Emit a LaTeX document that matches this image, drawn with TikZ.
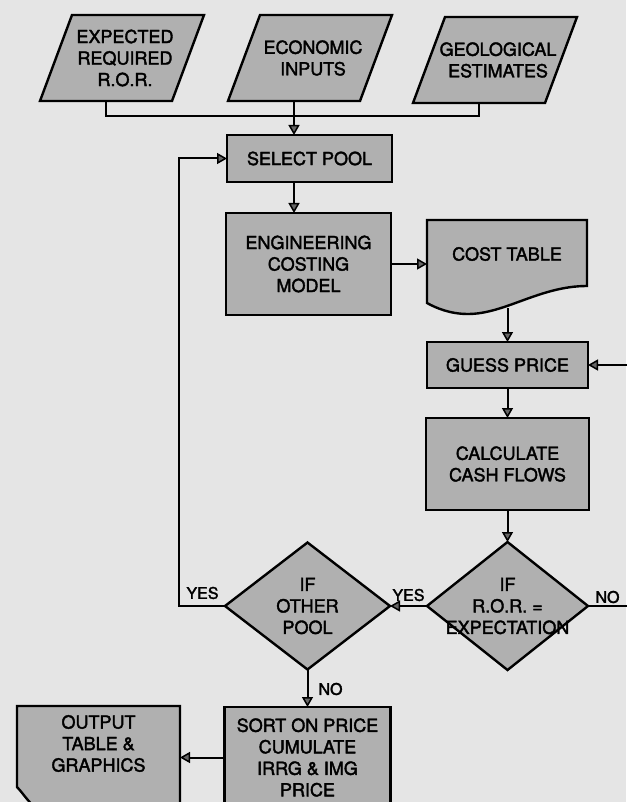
\documentclass[tikz,border=0pt]{standalone}
\usepackage{fontspec}
\setmainfont{TeX Gyre Heros}[FakeBold=2]
\usetikzlibrary{arrows.meta,shapes.geometric,calc}
\definecolor{papergrey}{HTML}{E5E5E5}
\definecolor{boxgrey}{HTML}{B0B0B0}
\newcommand\flowtext{\fontsize{18}{21.5}\selectfont}
\newcommand\flowlabel{\fontsize{16}{18}\selectfont}
\begin{document}
\begin{tikzpicture}[x=1pt,y=-1pt,
  outline/.style={draw=black,line width=2.4pt,fill=boxgrey,line join=miter},
  holder/.style={draw=none,fill=none,inner sep=0pt,outer sep=0pt},
  procbox/.style={rectangle,outline,inner sep=0pt,outer sep=0pt,align=center,font=\flowtext},
  decision/.style={diamond,outline,inner sep=0pt,outer sep=0pt},
  caption/.style={inner sep=0pt,align=center,font=\flowtext},
  tag/.style={inner sep=0pt,font=\flowlabel},
  link/.style={line width=2pt,draw=black},
  flow/.style={link,-{Triangle[length=10pt,width=11pt,fill=black!60,line width=1.5pt]}}]

% paper and page size
\fill[papergrey] (0,0) rectangle (626,802);
\useasboundingbox (0,0) rectangle (626,802);

% input parallelograms
\node[holder,minimum width=132,minimum height=86] (in1) at (122,58) {};
\path[outline] ($(in1.south west)+(-16,0)$) -- ($(in1.north west)+(16,0)$)
  -- ($(in1.north east)+(16,0)$) -- ($(in1.south east)+(-16,0)$) -- cycle;
\node[caption] (in1t) at ($(in1)+(3,0)$) {EXPECTED\\REQUIRED\\R.O.R.};

\node[holder,minimum width=132,minimum height=86] (in2) at (310,58) {};
\path[outline] ($(in2.south west)+(-16,0)$) -- ($(in2.north west)+(16,0)$)
  -- ($(in2.north east)+(16,0)$) -- ($(in2.south east)+(-16,0)$) -- cycle;
\node[caption] (in2t) at ($(in2)+(3,0)$) {ECONOMIC\\INPUTS};

\node[holder,minimum width=132,minimum height=86] (in3) at (495,60) {};
\path[outline] ($(in3.south west)+(-16,0)$) -- ($(in3.north west)+(16,0)$)
  -- ($(in3.north east)+(16,0)$) -- ($(in3.south east)+(-16,0)$) -- cycle;
\node[caption] (in3t) at ($(in3)+(3,0)$) {GEOLOGICAL\\ESTIMATES};

\coordinate (in1b) at ($(in1.south)+(-16,0)$);
\coordinate (in2b) at ($(in2.south)+(-16,0)$);
\coordinate (in3b) at ($(in3.south)+(-16,0)$);

% process boxes
\node[procbox,minimum width=165,minimum height=47] (pool) at (309.5,158.5) {SELECT POOL};
\node[procbox,minimum width=165,minimum height=102] (eng) at (308.5,264) {ENGINEERING\\COSTING\\MODEL};

% cost table (document symbol)
\node[holder,minimum width=160,minimum height=88] (cost) at (507,264) {};
\path[outline] (cost.north west) -- (cost.north east) -- ($(cost.south east)+(0,-22)$)
  .. controls ($(cost.south east)+(-47,-22)$) and ($(cost.south west)+(78,6)$) .. ($(cost.south west)+(41,6)$)
  .. controls ($(cost.south west)+(23,6)$) and ($(cost.south west)+(9,0)$) .. ($(cost.south west)+(0,-5)$)
  -- cycle;
\node[caption] (costt) at (507,254) {COST TABLE};

\node[procbox,minimum width=161,minimum height=46] (guess) at (507.5,365) {GUESS PRICE};
\node[procbox,minimum width=163,minimum height=92] (calc) at (507.5,464) {CALCULATE\\CASH FLOWS};

% decisions
\node[decision,minimum width=161,minimum height=128] (ror) at (507.5,606) {};
\node[caption] (rort) at (ror) {IF\\R.O.R. =\\EXPECTATION};
\node[decision,minimum width=165,minimum height=127] (other) at (307.5,606) {};
\node[caption] (othert) at (other) {IF\\OTHER\\POOL};

% final steps
\node[procbox,minimum width=166,minimum height=101] (sort) at (307.5,757.5) {SORT ON PRICE\\CUMULATE\\IRRG \& IMG\\PRICE};
\node[holder,minimum width=163,minimum height=94] (out) at (98.5,753) {};
\path[outline] (out.north west) -- (out.north east) -- ($(out.south east)+(0,8)$)
  .. controls ($(out.south east)+(-50,8)$) and ($(out.south west)+(75,20)$) .. ($(out.south west)+(40,18)$)
  .. controls ($(out.south west)+(20,17)$) and ($(out.south west)+(8,-5)$) .. ($(out.south west)+(0,-13)$)
  -- cycle;
\node[caption] (outt) at (98.5,743.5) {OUTPUT\\TABLE \&\\GRAPHICS};

% connectors
\draw[link] (in1b) -- ++(0,15) -| (in3b);
\draw[flow] (in2b) -- (in2b |- pool.north);
\draw[flow] (in2b |- pool.south) -- (in2b |- eng.north);
\draw[flow] (eng.east) -- (eng.east -| cost.west);
\draw[flow] (cost.south -| guess.north) -- (guess.north);
\draw[flow] (guess.south) -- (calc.north);
\draw[flow] (calc.south) -- (ror.north);
\draw[flow] (ror.west) -- (other.east);
\draw[flow] (ror.east) -- ++(45,0) |- (guess.east);
\draw[flow] (other.west) -- ++(-46,0) |- (pool.west);
\draw[flow] (other.south) -- (sort.north);
\draw[flow] (sort.west) -- (sort.west -| out.east);

% branch labels
\node[tag] (yesback) at (202.5,593) {YES};
\node[tag] (yesror) at (408.5,595) {YES};
\node[tag] (nosort) at (330.5,689) {NO};
\node[tag] (noloop) at (607.5,597) {NO};
\end{tikzpicture}
\end{document}
